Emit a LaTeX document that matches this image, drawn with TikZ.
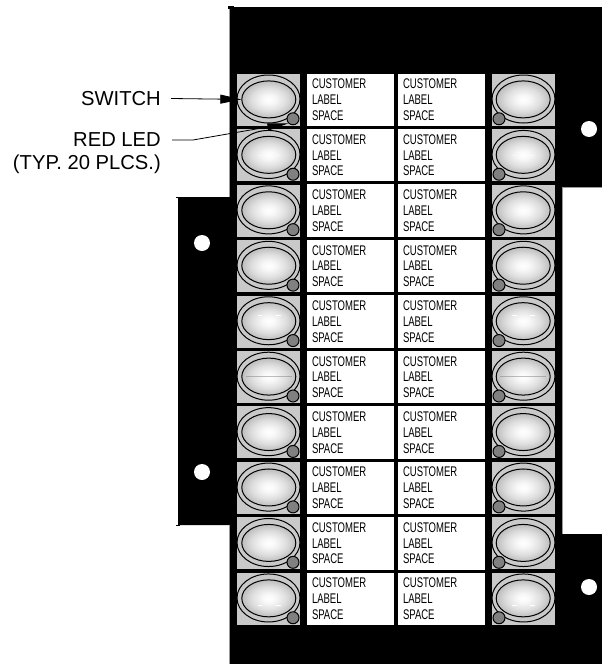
\documentclass[tikz,border=0pt]{standalone}
\usepackage{fontspec}
\setmainfont{Liberation Sans}
\newfontfamily\narrowlab[FakeStretch=0.68]{Liberation Sans}
\usetikzlibrary{shapes.geometric,arrows.meta}
\definecolor{cellgray}{gray}{0.79}
\definecolor{ledgray}{gray}{0.5}
\definecolor{edgegray}{gray}{0.6}
\definecolor{sa}{gray}{0.97}
\definecolor{sb}{gray}{0.87}
\definecolor{sc}{gray}{0.74}
\definecolor{sd}{gray}{0.55}
\pgfdeclareradialshading{swshade}{\pgfpoint{0bp}{0bp}}{color(0bp)=(white); color(6bp)=(sa); color(16bp)=(sb); color(25bp)=(sc); color(35bp)=(sd); color(50bp)=(sd)}
\tikzset{
  cell/.style={fill=cellgray,draw=none,inner sep=0pt,minimum width=63pt,minimum height=52pt},
  ring/.style={ellipse,draw=black,line width=1pt,fill=cellgray,inner sep=0pt,minimum width=63pt,minimum height=48pt},
  lens/.style={ellipse,draw=black,line width=1pt,shading=swshade,inner sep=0pt,minimum width=54pt,minimum height=37pt},
  led/.style={circle,draw=black,line width=1pt,fill=ledgray,inner sep=0pt,minimum size=12pt},
  labelbox/.style={fill=white,inner sep=0pt,minimum width=87pt,minimum height=52.5pt,
    text width=77pt,align=left,font=\fontsize{14}{15.8}\narrowlab,text=black},
  callout/.style={font=\fontsize{20.2}{23}\selectfont,align=right,inner sep=0pt},
  hole/.style={circle,fill=white,inner sep=0pt,minimum size=16pt},
  leader/.style={draw=black,line width=0.8pt},
  fleck/.style={white,line width=0.8pt}
}
\begin{document}
\begin{tikzpicture}[x=1pt,y=-1pt]
\useasboundingbox (0,0) rectangle (602,664);
\fill[white] (0,0) rectangle (602,664);
% panel
\fill[black] (230,7) -- (602,7) -- (602,187) -- (562,187) -- (562,534) -- (602,534) -- (602,664)
  -- (230,664) -- (230,525) -- (178,525) -- (178,197) -- (230,197) -- cycle;
\draw[edgegray,line width=0.8pt] (229.6,9) -- (229.6,197) (229.6,525) -- (229.6,664)
  (562.4,187) -- (602,187) (562.4,187) -- (562.4,534);
\fill[black] (228,5.5) rectangle (234,9);
\fill[black] (176,196.5) rectangle (180,198);
\fill[black] (176,524.5) rectangle (180,526);
% holes
\node[hole] (holeA) at (589,129) {};
\node[hole] (holeB) at (589,587) {};
\node[hole] (holeC) at (202,243) {};
\node[hole] (holeD) at (202,472) {};
% rows
\foreach \i in {1,...,10}{
  \pgfmathsetmacro{\yy}{99.8+55.44*(\i-1)}
  \node[cell] (cl\i) at (268.5,\yy) {};
  \node[cell] (cr\i) at (523.5,\yy) {};
  \node[ring] (rl\i) at (268.5,\yy-0.8) {};
  \node[ring] (rr\i) at (523.5,\yy-0.8) {};
  \node[lens] (il\i) at (268.8,\yy-0.4) {};
  \node[lens] (ir\i) at (523.2,\yy-0.4) {};
  \node[led] (dl\i) at (293,\yy+19) {};
  \node[led] (dr\i) at (499,\yy+19) {};
  \node[labelbox] (ma\i) at (350.5,\yy) {CUSTOMER\\LABEL\\SPACE};
  \node[labelbox] (mb\i) at (441.5,\yy) {CUSTOMER\\LABEL\\SPACE};
}
% surface marks on some lenses
\foreach \cx in {268.8,523.2}{
  \foreach \cy/\op in {155/0.4,315/1,605/1}{
    \draw[fleck,opacity=\op] (\cx-11,\cy) -- (\cx-6.5,\cy) (\cx+7,\cy) -- (\cx+12,\cy);
  }
  \draw[gray,line width=0.4pt,opacity=0.5] (\cx-23,376.5) -- (\cx+23,376.5);
}
% callouts
\node[callout,anchor=east] (swtxt) at (161,98.5) {SWITCH};
\node[callout,anchor=north east] (ledtxt) at (161,132.5) {RED LED\\(TYP. 20 PLCS.)};
\coordinate (ledtap) at (172,140);
\coordinate (ledbend) at (193,140);
\draw[leader,-{Triangle[length=21pt,width=9pt]}] ([xshift=10pt]swtxt.east) -- (il1.west);
\draw[leader,-{Triangle[length=21pt,width=7pt]}] (ledtap) -- (ledbend) -- (dl1.south west);
\end{tikzpicture}
\end{document}
